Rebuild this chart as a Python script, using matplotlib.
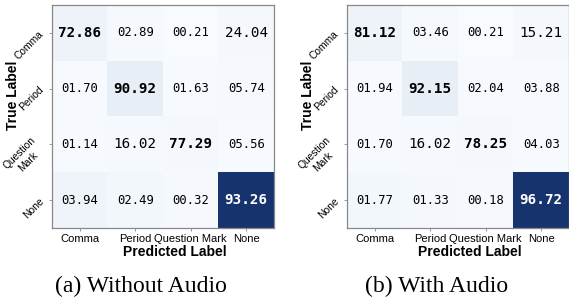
import numpy as np
import matplotlib
matplotlib.use("Agg")
import matplotlib.pyplot as plt
import matplotlib.transforms as mtransforms
from matplotlib.colors import LinearSegmentedColormap

pred_labels = ["Comma", "Period", "Question Mark", "None"]
true_labels = ["Comma", "Period", "Question\nMark", "None"]

values_a = [[72.86, 2.89, 0.21, 24.04],
            [1.70, 90.92, 1.63, 5.74],
            [1.14, 16.02, 77.29, 5.56],
            [3.94, 2.49, 0.32, 93.26]]
values_b = [[81.12, 3.46, 0.21, 15.21],
            [1.94, 92.15, 2.04, 3.88],
            [1.70, 16.02, 78.25, 4.03],
            [1.77, 1.33, 0.18, 96.72]]
# estimated cell shading (share of all samples; colour follows counts)
shade_a = [[0.040, 0.008, 0.003, 0.015],
           [0.006, 0.065, 0.004, 0.008],
           [0.004, 0.010, 0.012, 0.006],
           [0.032, 0.020, 0.010, 1.000]]
shade_b = [[0.040, 0.008, 0.003, 0.012],
           [0.006, 0.065, 0.004, 0.006],
           [0.004, 0.010, 0.012, 0.006],
           [0.020, 0.015, 0.008, 1.000]]
captions = ["(a) Without Audio", "(b) With Audio"]

cmap = LinearSegmentedColormap.from_list("nb", ["#f7fbff", "#17336e"])

fig = plt.figure(figsize=(5.69, 2.98), dpi=100)
lefts = [52 / 569, 347 / 569]
cap_x = [141 / 569, 437 / 569]
for k, (vals, shade) in enumerate([(values_a, shade_a), (values_b, shade_b)]):
    ax = fig.add_axes([lefts[k], 1 - 228 / 298, 222 / 569, 223 / 298])
    sh = np.array(shade)
    ax.imshow(sh, cmap=cmap, vmin=0, vmax=1, aspect="auto")
    v = np.array(vals)
    for i in range(4):
        for j in range(4):
            val = v[i, j]
            size = 10.3 if val >= 10 else 8.8
            weight = "bold" if val >= 50 else "normal"
            color = "white" if sh[i, j] > 0.5 else "black"
            ax.text(j, i, f"{val:05.2f}", ha="center", va="center",
                    fontsize=size, fontweight=weight, color=color,
                    family="DejaVu Sans Mono")
    ax.set_xticks(range(4))
    ax.set_xticklabels(pred_labels, family="Liberation Sans", fontsize=8)
    ax.set_yticks(range(4))
    ax.set_yticklabels(true_labels, family="Liberation Sans", fontsize=7.4,
                       rotation=45, ha="right", va="center_baseline",
                       multialignment="center")
    offset = mtransforms.ScaledTranslation(0, 3 / 72, fig.dpi_scale_trans)
    for lab in ax.get_yticklabels():
        lab.set_transform(lab.get_transform() + offset)
    ax.tick_params(axis="both", length=2.5, width=0.6, color="#888888", pad=2)
    for s in ax.spines.values():
        s.set_color("#888888")
        s.set_linewidth(0.9)
    ax.text(0.554, -0.108, "Predicted Label", transform=ax.transAxes,
            ha="center", va="center", fontsize=10, fontweight="bold",
            family="Liberation Sans")
    ax.text(-0.176, 0.596, "True Label", transform=ax.transAxes, rotation=90,
            ha="center", va="center", fontsize=10, fontweight="bold",
            family="Liberation Sans")
    fig.text(cap_x[k], 0.040, captions[k], ha="center", va="center",
             fontsize=17, family="Liberation Serif")

fig.savefig("out.png", dpi=100)
